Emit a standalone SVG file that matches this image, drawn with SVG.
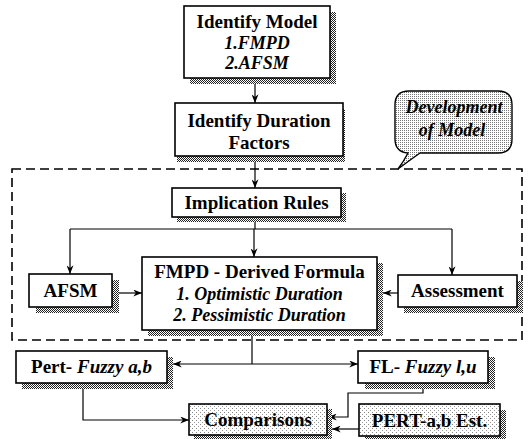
<svg xmlns="http://www.w3.org/2000/svg" width="529" height="439" viewBox="0 0 529 439">
<defs>
<pattern id="sh" width="2" height="2" patternUnits="userSpaceOnUse"><rect width="2" height="2" fill="#fff"/><rect width="1" height="1" fill="#222"/><rect x="1" y="1" width="1" height="1" fill="#222"/></pattern>
<pattern id="lt" width="4" height="4" patternUnits="userSpaceOnUse"><rect width="4" height="4" fill="#fff"/><rect width="1" height="1" fill="#888"/><rect x="2" y="2" width="1" height="1" fill="#999"/></pattern>
<pattern id="md" width="2" height="2" patternUnits="userSpaceOnUse"><rect width="2" height="2" fill="#fff"/><rect width="1" height="1" fill="#777"/></pattern>
<marker id="ah" viewBox="0 0 10 8" refX="10" refY="4" markerWidth="9" markerHeight="7" markerUnits="userSpaceOnUse" orient="auto"><path d="M0,0 L10,4 L0,8 L3,4 z" fill="#000"/></marker>
</defs>
<style>
.box{fill:#fff;stroke:#000;stroke-width:1.6}
.sbox{fill:url(#lt);stroke:#000;stroke-width:1.6}
.shadow{fill:url(#sh)}
text{font-family:"Liberation Serif","DejaVu Serif",serif;font-weight:bold;font-size:19px;fill:#000;text-anchor:middle}
.i{font-style:italic;font-size:18px}
.c{fill:none;stroke:#000;stroke-width:1.2}
.ca{fill:none;stroke:#000;stroke-width:1.2;marker-end:url(#ah)}
.dash{fill:none;stroke:#000;stroke-width:1.6;stroke-dasharray:9,5}
</style>
<rect width="529" height="439" fill="#fff"/>

<g id="connectors">
<line class="ca" x1="255" y1="84" x2="255" y2="103"/>
<line class="ca" x1="255" y1="162" x2="255" y2="188"/>
<polyline class="c" points="255,217 255,229"/>
<line class="c" x1="70" y1="229" x2="452" y2="229"/>
<polyline class="ca" points="70,229 70,274"/>
<polyline class="ca" points="254,229 254,257"/>
<polyline class="ca" points="452,229 452,275"/>
<line class="ca" x1="119" y1="293" x2="142" y2="293"/>
<line class="ca" x1="398" y1="293" x2="383" y2="293"/>
<line class="c" x1="252" y1="336" x2="252" y2="364"/>
<line class="ca" x1="252" y1="364" x2="173" y2="364"/>
<line class="ca" x1="252" y1="364" x2="358" y2="364"/>
<polyline class="ca" points="83,389 83,420 189,420"/>
<polyline class="ca" points="423,389 423,393 348,393 348,417 328,417"/>
<line class="ca" x1="359" y1="429" x2="332" y2="429"/>
</g>

<g id="development-region">
<rect class="dash" x="12" y="169" width="510" height="171"/>
</g>

<g id="callout">
<path d="M409,91 H498 Q512,91 512,105 V139 Q512,153 498,153 H420 Q410,160 398,169 Q404,161 408,153 Q395,152 395,139 V105 Q395,91 409,91 Z" fill="url(#md)" stroke="#000" stroke-width="1.4"/>
<text class="i" x="454" y="113">Development</text>
<text class="i" x="452" y="136">of Model</text>
</g>

<g id="identify-model">
<rect class="shadow" x="190" y="12" width="146" height="72"/>
<rect class="box" x="184" y="6" width="146" height="72"/>
<text x="257" y="28">Identify Model</text>
<text class="i" x="257" y="49">1.FMPD</text>
<text class="i" x="257" y="69">2.AFSM</text>
</g>

<g id="identify-duration">
<rect class="shadow" x="177" y="109" width="168" height="53"/>
<rect class="box" x="175" y="103" width="168" height="53"/>
<text x="259" y="127">Identify Duration</text>
<text x="259" y="149">Factors</text>
</g>

<g id="implication-rules">
<rect class="shadow" x="177" y="193" width="169" height="29"/>
<rect class="box" x="172" y="188" width="169" height="29"/>
<text x="256.5" y="209">Implication Rules</text>
</g>

<g id="afsm">
<rect class="shadow" x="36" y="280" width="83" height="33"/>
<rect class="box" x="29" y="274" width="83" height="33"/>
<text x="70.5" y="297">AFSM</text>
</g>

<g id="fmpd">
<rect class="shadow" x="148" y="263" width="235" height="73"/>
<rect class="box" x="142" y="257" width="235" height="73"/>
<text x="259.5" y="278">FMPD - Derived Formula</text>
<text class="i" x="259.5" y="300">1. Optimistic Duration</text>
<text class="i" x="259.5" y="321">2. Pessimistic Duration</text>
</g>

<g id="assessment">
<rect class="shadow" x="404" y="281" width="119" height="32"/>
<rect class="box" x="398" y="275" width="119" height="32"/>
<text x="457.5" y="297">Assessment</text>
</g>

<g id="pert-fuzzy">
<rect class="shadow" x="22" y="357" width="151" height="32"/>
<rect class="box" x="16" y="351" width="151" height="32"/>
<text x="91.5" y="373">Pert- <tspan font-style="italic">Fuzzy a,b</tspan></text>
</g>

<g id="fl-fuzzy">
<rect class="shadow" x="365" y="357" width="130" height="32"/>
<rect class="box" x="358" y="351" width="130" height="32"/>
<text x="423" y="373">FL- <tspan font-style="italic">Fuzzy l,u</tspan></text>
</g>

<g id="comparisons">
<rect class="shadow" x="194" y="409" width="138" height="31"/>
<rect class="sbox" x="189" y="404" width="138" height="31"/>
<text x="258" y="426">Comparisons</text>
</g>

<g id="pert-est">
<rect class="shadow" x="365" y="410" width="141" height="32"/>
<rect class="sbox" x="359" y="404" width="141" height="32"/>
<text x="429.5" y="427">PERT-a,b Est.</text>
</g>
</svg>
